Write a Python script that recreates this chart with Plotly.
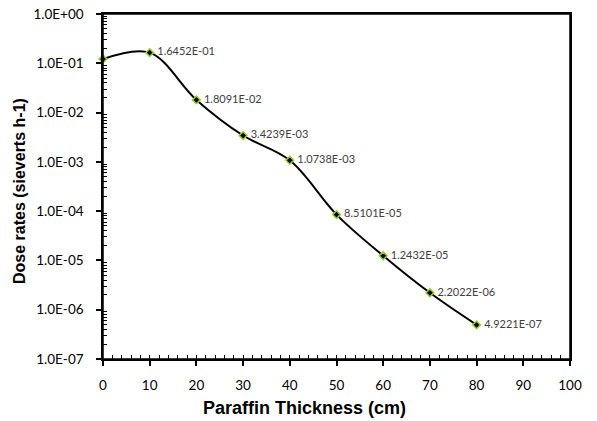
import plotly.graph_objects as go

thickness = [0, 10, 20, 30, 40, 50, 60, 70, 80]
dose = [1.22e-01, 1.6452e-01, 1.8091e-02, 3.4239e-03, 1.0738e-03, 8.5101e-05, 1.2432e-05, 2.2022e-06, 4.9221e-07]
labels = ["", "1.6452E-01", "1.8091E-02", "3.4239E-03", "1.0738E-03", "8.5101E-05", "1.2432E-05", "2.2022E-06", "4.9221E-07"]
ytick_vals = [1e0, 1e-1, 1e-2, 1e-3, 1e-4, 1e-5, 1e-6, 1e-7]
ytick_text = ["1.0E+00", "1.0E-01", "1.0E-02", "1.0E-03", "1.0E-04", "1.0E-05", "1.0E-06", "1.0E-07"]
xtick_vals = [0, 10, 20, 30, 40, 50, 60, 70, 80, 90, 100]
x_title = "Paraffin Thickness (cm)"
y_title = "Dose rates (sieverts h-1)"

minor_y = [k * 10.0 ** e for e in range(-7, 0) for k in range(2, 10)]
minor_x = list(range(2, 100, 2))

fig = go.Figure()
fig.add_trace(go.Scatter(
    x=thickness, y=dose, mode="lines+markers+text",
    line=dict(color="black", width=2, shape="spline", smoothing=1.0),
    marker=dict(symbol="diamond", size=6, color="black",
                line=dict(color="#9acd32", width=1.5)),
    text=[" " + t for t in labels], textposition="middle right",
    textfont=dict(family="Lato, Noto Sans, sans-serif", size=11, color="#404040"),
    cliponaxis=False, showlegend=False, hoverinfo="skip",
))

fig.update_layout(
    width=597, height=421,
    margin=dict(l=103, r=27, t=14, b=62),
    paper_bgcolor="white", plot_bgcolor="white",
    font=dict(family="Lato, Noto Sans, sans-serif", color="black"),
    xaxis=dict(
        range=[0, 100], tickvals=xtick_vals, showgrid=False, zeroline=False,
        showline=True, linecolor="black", linewidth=1.5, mirror=True,
        ticks="outside", ticklen=5, tickcolor="black", tickwidth=1.5,
        tickfont=dict(size=13.5), ticklabelstandoff=8, automargin=False,
        ticklabeloverflow="allow",
        minor=dict(tickvals=minor_x, ticks="inside", ticklen=4,
                   tickcolor="black", tickwidth=1, showgrid=False),
    ),
    yaxis=dict(
        type="log", range=[-7, 0], tickvals=ytick_vals, ticktext=ytick_text,
        showgrid=False, zeroline=False,
        showline=True, linecolor="black", linewidth=1.5, mirror=True,
        ticks="outside", ticklen=5, tickcolor="black", tickwidth=1.5,
        tickfont=dict(size=13.5), ticklabelstandoff=10, automargin=False,
        ticklabeloverflow="allow",
        minor=dict(tickvals=minor_y, ticks="inside", ticklen=4,
                   tickcolor="black", tickwidth=1, showgrid=False),
    ),
    shapes=[dict(type="rect", xref="paper", yref="paper", x0=0, x1=1, y0=0, y1=1,
                 line=dict(color="black", width=1.5), layer="above")],
    annotations=[
        dict(text="<b>" + x_title + "</b>", xref="paper", yref="paper",
             x=0.4325, y=-0.142, xanchor="center", yanchor="middle", showarrow=False,
             font=dict(family="Liberation Sans, Arial, sans-serif", size=18, color="black")),
        dict(text="<b>" + y_title + "</b>", xref="paper", yref="paper",
             x=-0.1777, y=0.487, xanchor="center", yanchor="middle", showarrow=False,
             textangle=-90,
             font=dict(family="Liberation Sans, Arial, sans-serif", size=16, color="black")),
    ],
)

fig.write_html("out.html", config={"displayModeBar": False},
               post_script="document.body.style.margin='0';document.body.style.overflow='hidden';")
